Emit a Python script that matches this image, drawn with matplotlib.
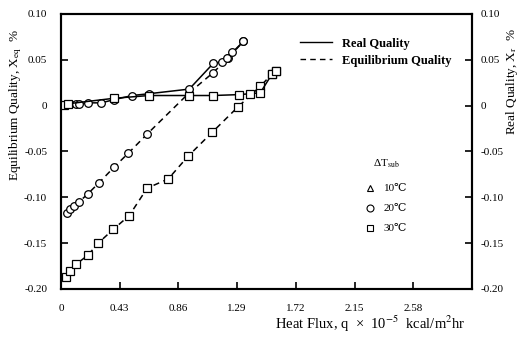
import numpy as np
import matplotlib
matplotlib.use('Agg')
import matplotlib.pyplot as plt
from matplotlib.lines import Line2D

plt.rcParams['font.family'] = ['Liberation Serif', 'DejaVu Serif']
plt.rcParams['mathtext.fontset'] = 'stix'

# heat flux (x 10^-5 kcal/m2hr) and quality (%)
q_eq_20 = [0.044, 0.066, 0.095, 0.132, 0.198, 0.279, 0.389, 0.492, 0.631, 0.939, 1.115, 1.225, 1.336]
x_eq_20 = [-0.117, -0.113, -0.110, -0.105, -0.096, -0.084, -0.067, -0.052, -0.031, 0.014, 0.036, 0.052, 0.070]

q_re_20 = [0.029, 0.066, 0.110, 0.132, 0.198, 0.294, 0.389, 0.521, 0.646, 0.939, 1.115, 1.181, 1.218, 1.255, 1.336]
x_re_20 = [0.001, 0.002, 0.002, 0.002, 0.003, 0.003, 0.0065, 0.011, 0.013, 0.018, 0.046, 0.048, 0.052, 0.058, 0.070]

q_eq_30 = [0.037, 0.066, 0.110, 0.198, 0.272, 0.382, 0.499, 0.631, 0.785, 0.932, 1.108, 1.299, 1.460, 1.548, 1.578]
x_eq_30 = [-0.187, -0.180, -0.173, -0.163, -0.150, -0.135, -0.120, -0.090, -0.080, -0.055, -0.029, -0.001, 0.021, 0.035, 0.038]

q_re_30 = [0.022, 0.051, 0.389, 0.646, 0.939, 1.115, 1.306, 1.387, 1.460, 1.548, 1.578]
x_re_30 = [0.001, 0.002, 0.008, 0.011, 0.011, 0.011, 0.012, 0.013, 0.014, 0.035, 0.038]

x_ticks = [0, 0.43, 0.86, 1.29, 1.72, 2.15, 2.58]
x_ticklabels = ['0', '0.43', '0.86', '1.29', '1.72', '2.15', '2.58']
y_ticks = [0.10, 0.05, 0, -0.05, -0.10, -0.15, -0.20]
y_ticklabels = ['0.10', '0.05', '0', '-0.05', '-0.10', '-0.15', '-0.20']

fig = plt.figure(figsize=(5.22, 3.39), dpi=100)
ax = fig.add_axes([0.117, 0.1475, 0.787, 0.8115])

mk = dict(markersize=5.5, markerfacecolor='white', markeredgecolor='black', markeredgewidth=0.9)

ax.plot(q_eq_20, x_eq_20, color='black', lw=1.1, linestyle=(0, (4, 3)), marker='o', **mk)
ax.plot(q_eq_30, x_eq_30, color='black', lw=1.1, linestyle=(0, (4, 3)), marker='s', **mk)
ax.plot(q_re_20, x_re_20, color='black', lw=1.1, linestyle='-', marker='o', **mk)
ax.plot(q_re_30, x_re_30, color='black', lw=1.1, linestyle='-', marker='s', **mk)

ax.set_xlim(0, 3.01)
ax.set_ylim(-0.20, 0.10)
ax.set_xticks(x_ticks)
ax.set_xticklabels(x_ticklabels)
ax.set_yticks(y_ticks)
ax.set_yticklabels(y_ticklabels)
ax.tick_params(direction='in', length=5, width=1.2, labelsize=8, pad=10)
ax.tick_params(axis='x', pad=11)

for s in ax.spines.values():
    s.set_linewidth(1.5)

ax2 = ax.twinx()
ax2.set_ylim(-0.20, 0.10)
ax2.set_yticks(y_ticks)
ax2.set_yticklabels(y_ticklabels)
ax2.tick_params(direction='in', length=5, width=1.2, labelsize=8, pad=6)
for s in ax2.spines.values():
    s.set_linewidth(1.5)

fig.text(0.030, 0.915, r'Equilibrium Quality, X$_{\mathrm{eq}}$  %', rotation=90, fontsize=9.5,
         ha='center', va='top')
fig.text(0.980, 0.915, r'Real Quality, X$_{\mathrm{r}}$  %', rotation=90, fontsize=9.5,
         ha='center', va='top')
fig.text(0.71, 0.045, r'Heat Flux, q  ×  10$^{-5}$  kcal/m$^{2}$hr', fontsize=10.5,
         ha='center', va='center')

style_handles = [Line2D([], [], color='black', lw=1.0, linestyle='-'),
                 Line2D([], [], color='black', lw=1.0, linestyle=(0, (4, 3)))]
leg1 = ax.legend(style_handles, ['Real Quality', 'Equilibrium Quality'],
                 loc='upper left', bbox_to_anchor=(0.553, 0.955), frameon=False,
                 handlelength=2.6, handletextpad=0.8, labelspacing=0.4,
                 prop={'weight': 'bold', 'size': 9})
ax.add_artist(leg1)

mk_handles = [Line2D([], [], linestyle='none', marker=m, markersize=5,
                     markerfacecolor='white', markeredgecolor='black', markeredgewidth=0.8)
              for m in ['^', 'o', 's']]
leg2 = ax.legend(mk_handles, ['10℃', '20℃', '30℃'], loc='upper left',
                 bbox_to_anchor=(0.715, 0.515), frameon=False, title=r'ΔT$_{\mathrm{sub}}$',
                 handlelength=1.0, handletextpad=0.7, labelspacing=0.92,
                 prop={'size': 8}, title_fontsize=8)
leg2._legend_box.sep = 10

fig.savefig('out.png', dpi=100)
